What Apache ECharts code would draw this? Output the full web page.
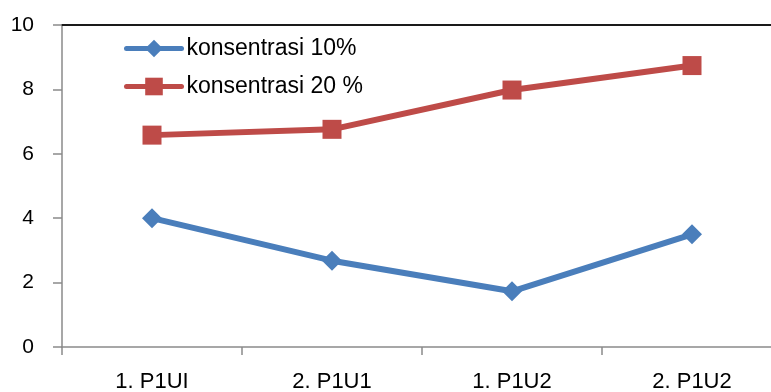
<!DOCTYPE html>
<html>
<head>
<meta charset="utf-8">
<script src="https://cdn.jsdelivr.net/npm/echarts@6/dist/echarts.min.js"></script>
<style>
  html, body { margin: 0; padding: 0; background: #ffffff; }
  #chart { width: 771px; height: 392px; }
</style>
</head>
<body>
<div id="chart"></div>
<script>
// Categories along the x axis
const categories = ['1. P1UI', '2. P1U1', '1. P1U2', '2. P1U2'];
// Series values
const konsentrasi10 = [4.0, 2.68, 1.73, 3.5];
const konsentrasi20 = [6.58, 6.76, 7.98, 8.74];
// Value axis range
const yMin = 0;
const yMax = 10;
const yStep = 2;

const FONT = 'Liberation Sans';
const BLUE = '#4A7EBB';
const RED = '#BE4B48';
const AXIS_GRAY = '#8A8A8A';

const chart = echarts.init(document.getElementById('chart'), null, { renderer: 'canvas' });

chart.setOption({
  animation: false,
  backgroundColor: '#ffffff',
  textStyle: { fontFamily: FONT },
  grid: { left: 62, top: 25, width: 720, height: 322, containLabel: false, outerBoundsMode: 'none' },
  legend: {
    orient: 'vertical',
    left: 124,
    top: 37,
    padding: 0,
    itemWidth: 55,
    itemHeight: 22,
    itemGap: 15,
    lineStyle: { width: 5, cap: 'round' },
    textStyle: { fontFamily: FONT, fontSize: 23, color: '#000000' },
    data: ['konsentrasi 10%', 'konsentrasi 20 %']
  },
  xAxis: [
    {
      type: 'category',
      data: categories,
      boundaryGap: true,
      axisLine: { lineStyle: { color: AXIS_GRAY, width: 1.5 } },
      axisTick: { show: true, length: 8, lineStyle: { color: AXIS_GRAY, width: 1.5 } },
      axisLabel: { margin: 24, fontFamily: FONT, fontSize: 22, color: '#000000' },
      splitLine: { show: false }
    },
    {
      // frame line along the top of the plot area
      type: 'category',
      position: 'top',
      data: categories,
      axisLine: { lineStyle: { color: '#1a1a1a', width: 2 } },
      axisTick: { show: false },
      axisLabel: { show: false },
      splitLine: { show: false }
    }
  ],
  yAxis: {
    type: 'value',
    min: yMin,
    max: yMax,
    interval: yStep,
    axisLine: { show: true, lineStyle: { color: AXIS_GRAY, width: 1.5 } },
    axisTick: { show: true, length: 9, lineStyle: { color: AXIS_GRAY, width: 1.5 } },
    axisLabel: { margin: 28, fontFamily: FONT, fontSize: 21, color: '#000000' },
    splitLine: { show: false }
  },
  series: [
    {
      name: 'konsentrasi 10%',
      type: 'line',
      data: konsentrasi10,
      symbol: 'diamond',
      symbolSize: 20,
      lineStyle: { color: BLUE, width: 6 },
      itemStyle: { color: BLUE },
      z: 3
    },
    {
      name: 'konsentrasi 20 %',
      type: 'line',
      data: konsentrasi20,
      symbol: 'rect',
      symbolSize: 19,
      lineStyle: { color: RED, width: 6 },
      itemStyle: { color: RED },
      z: 3
    }
  ]
});
</script>
</body>
</html>
